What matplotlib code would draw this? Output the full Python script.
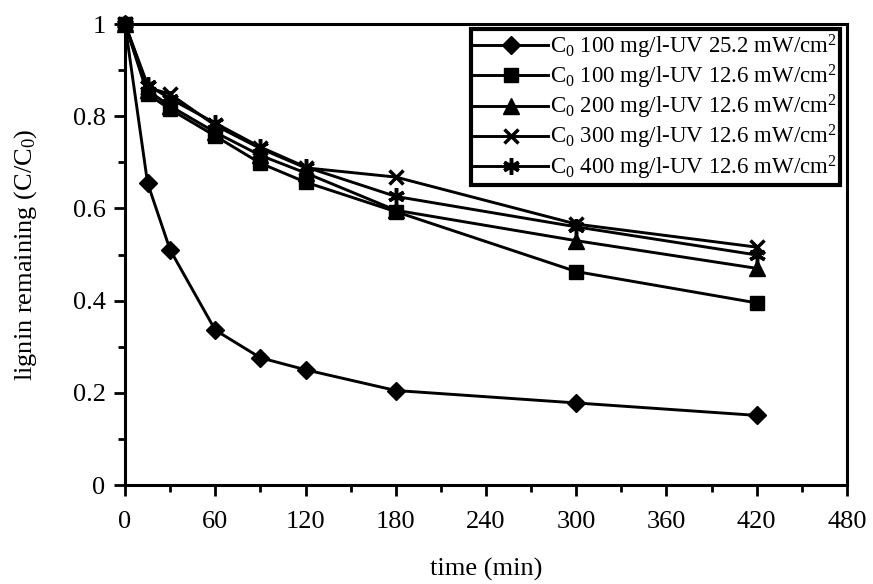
import matplotlib
matplotlib.use('Agg')
import matplotlib.pyplot as plt
from matplotlib.ticker import MultipleLocator, FuncFormatter

plt.rcParams['font.family'] = ['Liberation Serif', 'DejaVu Serif']
plt.rcParams['mathtext.fontset'] = 'custom'
plt.rcParams['mathtext.rm'] = 'Liberation Serif'
plt.rcParams['mathtext.it'] = 'Liberation Serif:italic'

time = [0, 15, 30, 60, 90, 120, 180, 300, 420]

uv252_100 = [1, 0.655, 0.51, 0.336, 0.276, 0.25, 0.205, 0.178, 0.151]
uv126_100 = [1, 0.848, 0.815, 0.757, 0.698, 0.657, 0.593, 0.463, 0.395]
uv126_200 = [1, 0.856, 0.822, 0.765, 0.715, 0.677, 0.596, 0.53, 0.47]
uv126_300 = [1, 0.862, 0.848, 0.78, 0.73, 0.688, 0.668, 0.566, 0.516]
uv126_400 = [1, 0.868, 0.838, 0.785, 0.733, 0.69, 0.626, 0.56, 0.499]

labels = [r'C$_0$ 100 mg/l-UV 25.2 mW/cm$^2$',
          r'C$_0$ 100 mg/l-UV 12.6 mW/cm$^2$',
          r'C$_0$ 200 mg/l-UV 12.6 mW/cm$^2$',
          r'C$_0$ 300 mg/l-UV 12.6 mW/cm$^2$',
          r'C$_0$ 400 mg/l-UV 12.6 mW/cm$^2$']

fig = plt.figure(figsize=(8.73, 5.84), dpi=100)
ax = fig.add_axes([0.1432, 0.1695, 0.827, 0.7894])

ax.plot(time, uv252_100, color='black', lw=2.1, marker='D', ms=9, label=labels[0], clip_on=False, zorder=3)
ax.plot(time, uv126_100, color='black', lw=2.1, marker='s', ms=10.5, label=labels[1], clip_on=False, zorder=3)
ax.plot(time, uv126_200, color='black', lw=2.1, marker='^', ms=11, label=labels[2], clip_on=False, zorder=3)
ax.plot(time, uv126_300, color='black', lw=2.1, marker='x', ms=10.5, mew=2.5, label=labels[3], clip_on=False, zorder=3)
ax.plot(time, uv126_400, color='black', lw=2.1, marker=(6, 2, 0), ms=12, mew=2.5, label=labels[4], clip_on=False, zorder=3)

ax.set_xlim(0, 480)
ax.set_ylim(0, 1)
ax.xaxis.set_major_locator(MultipleLocator(60))
ax.xaxis.set_minor_locator(MultipleLocator(30))
ax.yaxis.set_major_locator(MultipleLocator(0.2))
ax.yaxis.set_minor_locator(MultipleLocator(0.1))
ax.yaxis.set_major_formatter(FuncFormatter(lambda v, p: '%g' % round(v, 2)))

for s in ax.spines.values():
    s.set_linewidth(2.2)
ax.tick_params(which='major', direction='out', length=8, width=2, labelsize=19, pad=6)
ax.tick_params(which='minor', direction='out', length=5, width=2)
ax.tick_params(axis='x', pad=11)

ax.set_xlabel('time (min)', fontsize=19, labelpad=18)
ax.set_ylabel(r'lignin remaining (C/C$_0$)', fontsize=19, labelpad=24)

leg = ax.legend(loc='upper right', bbox_to_anchor=(0.9905, 0.989), fontsize=16.5,
                frameon=True, fancybox=False, edgecolor='black', framealpha=1,
                handlelength=3.2, handletextpad=0.1, borderpad=0.15,
                labelspacing=0.09, borderaxespad=0)
leg.get_frame().set_linewidth(3)

fig.savefig('out.png', dpi=100)
